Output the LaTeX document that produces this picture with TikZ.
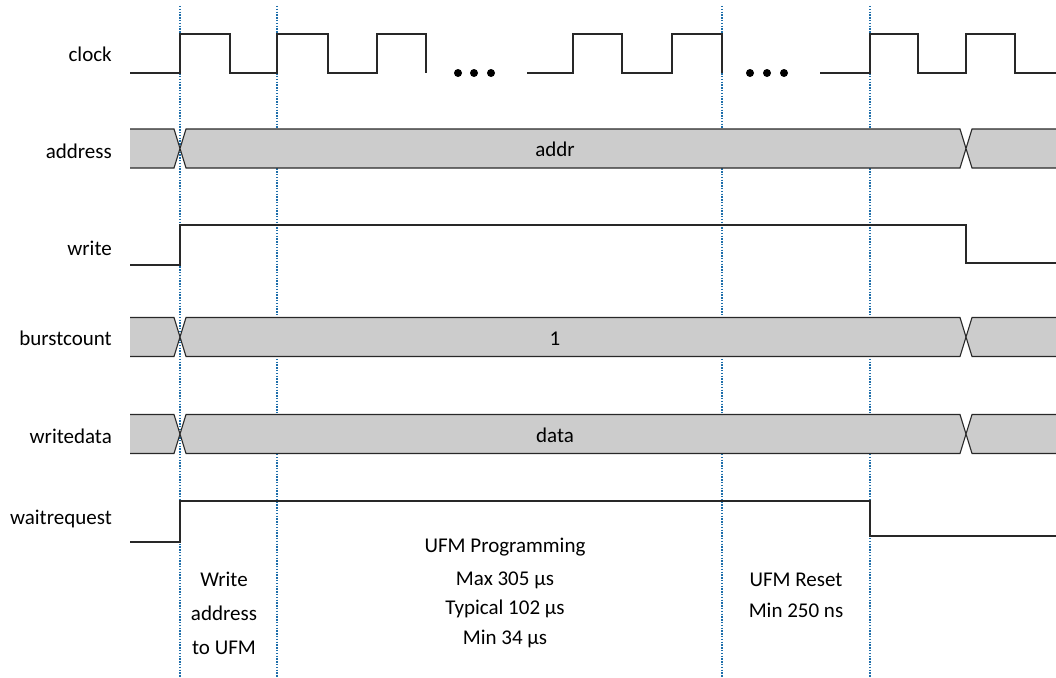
\documentclass[tikz,border=0pt]{standalone}
\usepackage{fontspec}
\setmainfont{Carlito}
\usetikzlibrary{positioning}
\definecolor{markblue}{RGB}{30,110,170}
\definecolor{sigline}{RGB}{40,40,40}
\definecolor{busgray}{RGB}{204,204,204}

\begin{document}
\begin{tikzpicture}[
    x=1pt, y=-1pt,
    font=\fontsize{21}{31}\selectfont,
    signame/.style={anchor=base east, inner sep=0pt},
    wave/.style={draw=sigline, line width=1.1pt},
    busfill/.style={fill=busgray},
    busline/.style={draw=sigline, line width=1.1pt},
    marker/.style={draw=markblue, line width=1.4pt, dash pattern=on 1.4pt off 1.4pt},
    note/.style={align=center, inner sep=0pt},
    ellip/.style={circle, fill=black, inner sep=0pt, minimum size=8pt}
]
\useasboundingbox (0,0) rectangle (1056,677);

% Time markers
\foreach \mx [count=\i] in {180,277,722,870} {
    \coordinate (mark\i top) at (\mx,6);
    \coordinate (mark\i bot) at (\mx,677);
    \draw[marker] (mark\i top) -- (mark\i bot);
}

% Signal names
\node[signame] (lclock) at (112,62) {clock};
\node[signame] (laddress) at (112,158) {address};
\node[signame] (lwrite) at (112,255) {write};
\node[signame] (lburst) at (112,345) {burstcount};
\node[signame] (lwdata) at (112,443) {writedata};
\node[signame] (lwait) at (112,524) {waitrequest};

% Clock
\draw[wave] (130,73) -- (180,73) -- (180,34) -- (230,34) -- (230,73) -- (277,73) -- (277,34)
    -- (328,34) -- (328,73) -- (377,73) -- (377,34) -- (426,34) -- (426,73);
\draw[wave] (527,73) -- (573,73) -- (573,34) -- (622,34) -- (622,73) -- (672,73) -- (672,34)
    -- (722,34) -- (722,73);
\draw[wave] (820,73) -- (870,73) -- (870,34) -- (918,34) -- (918,73) -- (966,73) -- (966,34)
    -- (1015,34) -- (1015,73) -- (1056,73);
\foreach \dx [count=\i] in {458,474,491} {
    \node[ellip] (dotA\i) at (\dx,73) {};
}
\foreach \dx [count=\i] in {750,767,784} {
    \node[ellip] (dotB\i) at (\dx,73) {};
}

% Buses
\foreach \c/\name/\txt in {148.5/addr/addr, 337/count/1, 434/data/data} {
    \pgfmathsetmacro{\t}{\c-19.5}
    \pgfmathsetmacro{\b}{\c+19.5}
    \pgfmathsetmacro{\bl}{\c+8}
    \fill[busfill] (130,\t) -- (174,\t) -- (180,\c) -- (174,\b) -- (130,\b) -- cycle;
    \draw[busline] (130,\t) -- (174,\t) -- (180,\c) -- (174,\b) -- (130,\b);
    \filldraw[busfill, busline] (180,\c) -- (186,\t) -- (960,\t) -- (966,\c) -- (960,\b) -- (186,\b) -- cycle;
    \fill[busfill] (966,\c) -- (972,\t) -- (1056,\t) -- (1056,\b) -- (972,\b) -- cycle;
    \draw[busline] (1056,\t) -- (972,\t) -- (966,\c) -- (972,\b) -- (1056,\b);
    \node[inner sep=0pt, anchor=base] (\name) at (555,\bl) {\txt};
}

% Write
\draw[wave] (130,265) -- (180,265) -- (180,225) -- (966,225) -- (966,263) -- (1056,263);

% Waitrequest
\draw[wave] (130,542) -- (180,542) -- (180,501) -- (870,501) -- (870,536) -- (1056,536);

% Phase notes
\node[note, font=\fontsize{21}{34}\selectfont] (wraddr) at (224,613) {Write\\address\\to UFM};
\node[note, font=\fontsize{21}{29.5}\selectfont] (ufmprog) at (505,593) {UFM Programming\\[3pt]Max 305 µs\\Typical 102 µs\\Min 34 µs};
\node[note, font=\fontsize{21}{31}\selectfont] (ufmreset) at (796,595) {UFM Reset\\Min 250 ns};

\end{tikzpicture}
\end{document}
